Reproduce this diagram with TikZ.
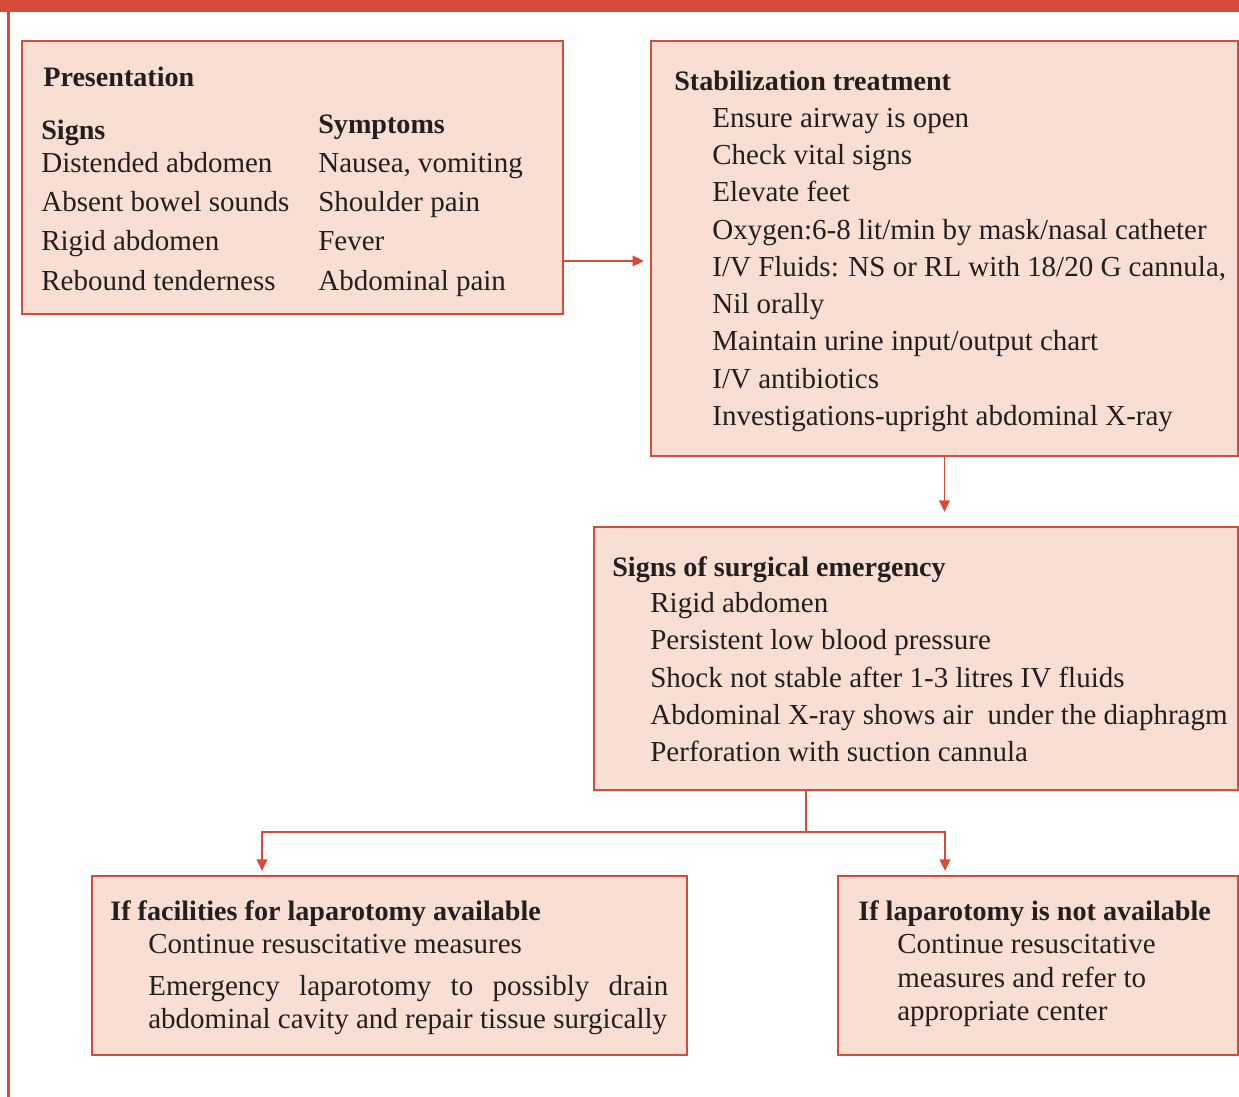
\documentclass[tikz,border=0pt]{standalone}
\usepackage{fontspec}
\setmainfont{Liberation Serif}
\usepackage{tikz}
\usetikzlibrary{arrows.meta, positioning, fit}
\definecolor{flowred}{HTML}{D64B3A}
\definecolor{flowfill}{HTML}{F9DED4}
\definecolor{flowtext}{HTML}{231F20}
\tikzstyle{box} = [draw=flowred, line width=1.2pt, fill=flowfill, inner sep=0pt]
\tikzstyle{head} = [anchor=base west, inner sep=0pt, text=flowtext, font=\fontsize{16}{19}\selectfont\bfseries]
\tikzstyle{item} = [anchor=base west, inner sep=0pt, text=flowtext, font=\fontsize{16.5}{19}\selectfont]
\tikzstyle{arrow} = [draw=flowred, line width=1.1pt, -{Triangle[length=6.5pt,width=6pt]}]
\tikzstyle{link} = [draw=flowred, line width=1.1pt]

\begin{document}
\begin{tikzpicture}[x=0.02cm, y=-0.02cm]
  \useasboundingbox (0,0) rectangle (1239,1097);

  % Page frame
  \fill[flowred] (0,0) rectangle (1239,12);
  \fill[flowred] (7,0) rectangle (10,1097);

  % Boxes
  \node[box, fit={(22,41) (563,314)}] (pres) {};
  \node[box, fit={(651,41) (1238,456)}] (stab) {};
  \node[box, fit={(594,527) (1238,790)}] (surg) {};
  \node[box, fit={(92,876) (687,1055)}] (lapyes) {};
  \node[box, fit={(838,876) (1238,1055)}] (lapno) {};

  % Presentation
  \node[head] (preshead) at (43,87) {Presentation};
  \node[head] (signs) at (41,140) {Signs};
  \node[head] (symptoms) at (318,134) {Symptoms};
  \foreach \t [count=\i] in {Distended abdomen, Absent bowel sounds, Rigid abdomen, Rebound tenderness}
    \node[item] (sign\i) at (41,133+39.3*\i) {\t};
  \foreach \t [count=\i] in {{Nausea, vomiting}, Shoulder pain, Fever, Abdominal pain}
    \node[item] (symp\i) at (318,133+39.3*\i) {\t};

  % Stabilization treatment
  \node[head] (stabhead) at (674,91) {Stabilization treatment};
  \foreach \t [count=\i] in {Ensure airway is open, Check vital signs, Elevate feet,
      Oxygen:6-8 lit/min by mask/nasal catheter, {I/V Fluids: NS or RL with 18/20 G cannula,},
      Nil orally, Maintain urine input/output chart, I/V antibiotics,
      Investigations-upright abdominal X-ray}
    \node[item] (stab\i) at (712,90.25+37.25*\i) {\t};

  % Signs of surgical emergency
  \node[head] (surghead) at (612,576) {Signs of surgical emergency};
  \foreach \t [count=\i] in {Rigid abdomen, Persistent low blood pressure,
      Shock not stable after 1-3 litres IV fluids,
      Abdominal X-ray shows air\ \ under the diaphragm, Perforation with suction cannula}
    \node[item] (surg\i) at (650,575.25+37.25*\i) {\t};

  % Laparotomy available
  \node[head] (yeshead) at (110,920) {If facilities for laparotomy available};
  \node[item] (yes1) at (148,953) {Continue resuscitative measures};
  \node[item, text width=10.4cm, align=justify] (yes2) at (148,995)
    {Emergency laparotomy to possibly drain\linebreak abdominal cavity and repair tissue surgically};

  % Laparotomy not available
  \node[head] (nohead) at (858,920) {If laparotomy is not available};
  \node[item] (no1) at (897,953) {Continue resuscitative};
  \node[item] (no2) at (897,987) {measures and refer to};
  \node[item] (no3) at (897,1020) {appropriate center};

  % Connectors
  \coordinate (pp) at (0,261);
  \draw[arrow, shorten >=3.4pt] (pres.east |- pp) -- (stab.west |- pp);
  \draw[arrow, shorten >=8pt] (stab.south) -- (surg.north -| stab.south);
  \coordinate (split) at (806,832);
  \coordinate (jl) at (262,832);
  \coordinate (jr) at (945,832);
  \draw[link] (surg.south -| split) -- (split);
  \draw[arrow, shorten >=2.3pt] (split) -- (jl) -- (jl |- lapyes.north);
  \draw[arrow, shorten >=2.3pt] (split) -- (jr) -- (jr |- lapno.north);
\end{tikzpicture}
\end{document}
